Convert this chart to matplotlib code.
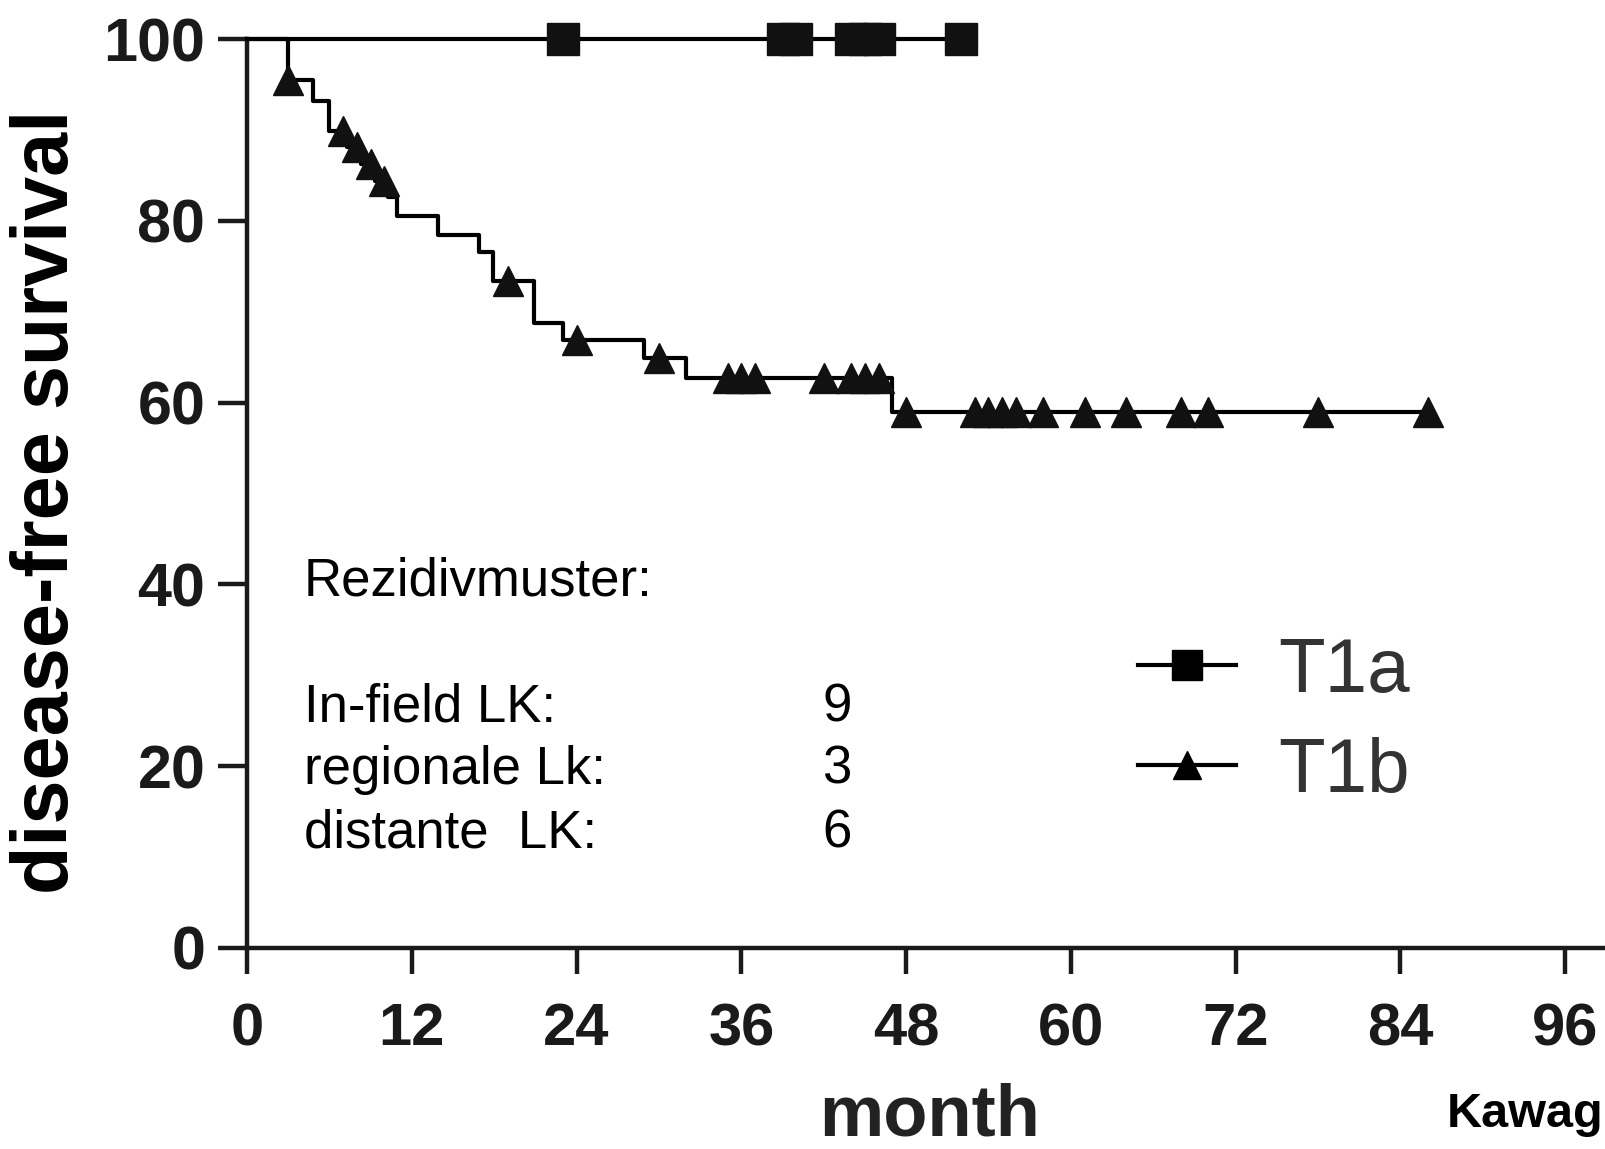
import numpy as np
import matplotlib
matplotlib.use("Agg")
import matplotlib.pyplot as plt
from matplotlib.lines import Line2D

plt.rcParams['font.family'] = ['Liberation Sans', 'DejaVu Sans']

# ---- data ----
# T1a: no events, censored observations (months)
t1a_censor = [23, 39, 40, 44, 45, 46, 52]
t1a_end = 52

# T1b: step function (time of drop, survival after drop, %)
t1b_times = [0, 3, 4.8, 6.0, 7.3, 8.3, 9.3, 10.3, 10.9, 13.9, 16.9, 17.9, 20.9, 23.0, 28.9, 32.0, 47.0]
t1b_surv = [100, 95.5, 93.2, 89.9, 88.1, 86.2, 84.4, 82.6, 80.5, 78.4, 76.6, 73.4, 68.8, 66.9, 64.9, 62.7, 59.0]
t1b_censor = [3, 7, 8, 9, 10, 19, 24, 30, 35, 36, 37, 42, 44, 45, 46, 48, 53, 54, 55, 56,
              58, 61, 64, 68, 70, 78, 86]
t1b_end = 86

x_ticks = [0, 12, 24, 36, 48, 60, 72, 84, 96]
y_ticks = [0, 20, 40, 60, 80, 100]

labels = ["T1a", "T1b"]
annot_title = "Rezidivmuster:"
annot_rows = ["In-field LK:", "regionale Lk:", "distante  LK:"]
annot_vals = ["9", "3", "6"]

# ---- figure ----
W, H = 1605, 1149
fig = plt.figure(figsize=(W / 100, H / 100), dpi=100)
ax = fig.add_axes([247 / W, 201 / H, (W - 247) / W, (948 - 39) / H])
ax.set_xlim(0, 98.9)
ax.set_ylim(0, 100)

lw = 3.0
# T1a
ax.plot([0, t1a_end], [100, 100], color='black', lw=lw, clip_on=False, zorder=3)
ax.plot(t1a_censor, [100] * len(t1a_censor), ls='none', marker='s', ms=23,
        color='#111111', clip_on=False, zorder=4)

# T1b
tt = list(t1b_times) + [t1b_end]
ss = list(t1b_surv) + [t1b_surv[-1]]
ax.step(tt, ss, where='post', color='black', lw=lw, clip_on=False, zorder=3)
idx = np.searchsorted(np.array(t1b_times), np.array(t1b_censor), side='right') - 1
cens_y = np.array(t1b_surv)[idx]
ax.plot(t1b_censor, cens_y, ls='none', marker='^', ms=21, color='#111111',
        clip_on=False, zorder=4)

# axes styling
for s in ['top', 'right']:
    ax.spines[s].set_visible(False)
for s in ['left', 'bottom']:
    ax.spines[s].set_linewidth(3.2)
    ax.spines[s].set_color('#1a1a1a')
ax.set_xticks(x_ticks)
ax.set_yticks(y_ticks)
ax.tick_params(axis='x', length=19, width=3.2, color='#1a1a1a', pad=20,
               labelsize=43, labelcolor='#1a1a1a')
ax.tick_params(axis='y', length=21, width=3.2, color='#1a1a1a', pad=9,
               labelsize=44, labelcolor='#1a1a1a')
for lab in ax.get_xticklabels() + ax.get_yticklabels():
    lab.set_fontweight('bold')

# axis titles
fig.text(48 / W, 1 - 502 / H, "disease-free survival", rotation=90, ha='center',
         va='center', fontsize=57, fontweight='bold', color='black')
fig.text(930 / W, 14 / H, "month", ha='center', va='baseline', fontsize=52,
         fontweight='bold', color='#222222')
fig.text(1447 / W, 1 - 1127 / H, "Kawag", ha='left', va='baseline', fontsize=35,
         fontweight='bold', color='black')

# annotation
fig.text(304 / W, 1 - 595 / H, annot_title, ha='left', va='baseline', fontsize=38,
         color='black')
for i, (r, v) in enumerate(zip(annot_rows, annot_vals)):
    yb = 721 + 63 * i
    fig.text(304 / W, 1 - yb / H, r, ha='left', va='baseline', fontsize=38, color='black')
    fig.text(837 / W, 1 - yb / H, v, ha='center', va='baseline', fontsize=38, color='black')

# legend
handles = [Line2D([], [], color='black', lw=lw, marker='s', ms=21),
           Line2D([], [], color='black', lw=lw, marker='^', ms=20)]
leg = ax.legend(handles, labels, loc='upper left', bbox_to_anchor=(1138 / W, 1 - 637 / H),
                bbox_transform=fig.transFigure, frameon=False, fontsize=55,
                handlelength=1.28, handletextpad=0.55, labelspacing=0.38,
                borderpad=0, borderaxespad=0, numpoints=1)
for t in leg.get_texts():
    t.set_color('#333333')

fig.savefig("out.png", dpi=100)
